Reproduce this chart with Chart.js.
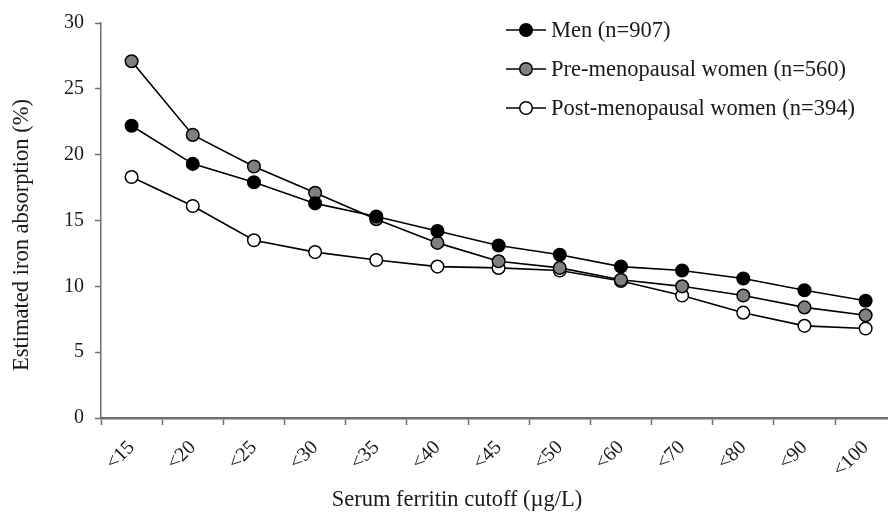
<!DOCTYPE html>
<html>
<head>
<meta charset="utf-8">
<script src="https://cdn.jsdelivr.net/npm/chart.js@4/dist/chart.umd.min.js"></script>
<style>
  html, body { margin: 0; padding: 0; background: #fff; overflow: hidden; }
  #wrap { width: 888px; height: 514px; overflow: hidden; }
</style>
</head>
<body>
<div id="wrap"><canvas id="chart" width="904" height="514"></canvas></div>
<script>
// Category labels along the x axis (serum ferritin cutoff)
const cutoffs = ['<15', '<20', '<25', '<30', '<35', '<40', '<45', '<50', '<60', '<70', '<80', '<90', '<100'];

// Estimated iron absorption (%)
const men = [22.2, 19.3, 17.9, 16.3, 15.3, 14.2, 13.1, 12.4, 11.5, 11.2, 10.6, 9.7, 8.9];
const preMenopausal = [27.1, 21.5, 19.1, 17.1, 15.1, 13.3, 11.9, 11.4, 10.5, 10.0, 9.3, 8.4, 7.8];
const postMenopausal = [18.3, 16.1, 13.5, 12.6, 12.0, 11.5, 11.4, 11.2, 10.4, 9.3, 8.0, 7.0, 6.8];

const seriesNames = ['Men (n=907)', 'Pre-menopausal women (n=560)', 'Post-menopausal women (n=394)'];
const yTicks = [0, 5, 10, 15, 20, 25, 30];
const xTitle = 'Serum ferritin cutoff (µg/L)';
const yTitle = 'Estimated iron absorption (%)';

const serif = '"Liberation Serif", "DejaVu Serif", serif';
const textColor = '#1a1a1a';
const axisColor = '#6e6e6e';

// Draws the legend as line + marker and the two axis titles, placed like the original figure
const figureText = {
  id: 'figureText',
  afterDraw(chart) {
    const ctx = chart.ctx;
    const x0 = 506, y0 = 30, rowGap = 39;
    ctx.save();
    ctx.font = '22.5px ' + serif;
    ctx.textBaseline = 'middle';
    chart.data.datasets.forEach((ds, i) => {
      const y = y0 + i * rowGap;
      ctx.strokeStyle = ds.borderColor;
      ctx.lineWidth = 1.6;
      ctx.beginPath();
      ctx.moveTo(x0, y);
      ctx.lineTo(x0 + 40, y);
      ctx.stroke();
      ctx.beginPath();
      ctx.arc(x0 + 20, y, 6.3, 0, Math.PI * 2);
      ctx.fillStyle = ds.pointBackgroundColor;
      ctx.fill();
      ctx.lineWidth = 1.5;
      ctx.strokeStyle = '#000';
      ctx.stroke();
      ctx.fillStyle = textColor;
      ctx.fillText(ds.label, x0 + 45, y + 1);
    });

    // axis titles
    ctx.textAlign = 'center';
    ctx.fillText(xTitle, 457, 500);
    ctx.translate(22, 235);
    ctx.rotate(-Math.PI / 2);
    ctx.fillText(yTitle, 0, 0);
    ctx.restore();
  }
};

function makeSeries(label, data, fill) {
  return {
    label: label,
    data: data,
    borderColor: '#000',
    borderWidth: 1.6,
    pointRadius: 6.3,
    pointHoverRadius: 6.3,
    pointBackgroundColor: fill,
    pointBorderColor: '#000',
    pointBorderWidth: 1.5,
    fill: false,
    tension: 0,
  };
}

const ctx = document.getElementById('chart').getContext('2d');
new Chart(ctx, {
  type: 'line',
  data: {
    labels: cutoffs,
    datasets: [
      makeSeries(seriesNames[0], men, '#000000'),
      makeSeries(seriesNames[1], preMenopausal, '#808080'),
      makeSeries(seriesNames[2], postMenopausal, '#ffffff'),
    ],
  },
  options: {
    responsive: false,
    animation: false,
    layout: { padding: { top: 20, right: 0, left: 0, bottom: 0 } },
    plugins: {
      legend: { display: false },
      tooltip: { enabled: false },
    },
    scales: {
      x: {
        type: 'category',
        offset: true,
        grid: {
          offset: true,
          drawOnChartArea: false,
          drawTicks: true,
          tickLength: 7,
          tickWidth: 1.5,
          tickColor: axisColor,
        },
        border: { color: axisColor, width: 2.5 },
        ticks: {
          minRotation: 45,
          maxRotation: 45,
          padding: 11,
          color: textColor,
          font: { family: serif, size: 20 },
        },
        afterFit(scale) { scale.height = 96; },
      },
      y: {
        min: 0,
        max: 30,
        afterBuildTicks(scale) { scale.ticks = yTicks.map(v => ({ value: v })); },
        grid: {
          drawOnChartArea: false,
          drawTicks: true,
          tickLength: 6,
          tickWidth: 1.5,
          tickColor: axisColor,
        },
        border: { color: axisColor, width: 1.5 },
        ticks: {
          padding: 11,
          color: textColor,
          font: { family: serif, size: 20 },
        },
        afterFit(scale) { scale.width = 101; },
      },
    },
  },
  plugins: [figureText],
});
</script>
</body>
</html>
